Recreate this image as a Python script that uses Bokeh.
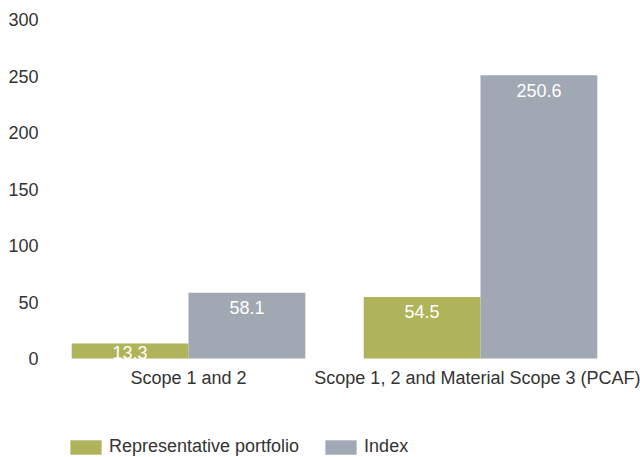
from bokeh.plotting import figure
from bokeh.models import ColumnDataSource, Range1d, Legend, LegendItem, FixedTicker
from bokeh.core.properties import value
from bokeh.embed import file_html
from bokeh.resources import INLINE

categories = ["Scope 1 and 2", "Scope 1, 2 and Material Scope 3 (PCAF)"]
portfolio = [13.3, 54.5]
index_vals = [58.1, 250.6]
series_names = ["Representative portfolio", "Index"]
y_ticks = [0, 50, 100, 150, 200, 250, 300]

GREEN = "#afb45b"
GRAY = "#9fa8b3"
FONT = "Liberation Sans"
TEXT = "#333333"

PLOT_H = 339          # pixels from 0 to 300
BELOW_H = 99          # pixels below the zero line (axis labels + legend)
Y_MAX = 300
px_per_unit = PLOT_H / Y_MAX
CAT_PX = 292          # pixels per category slot
FRAME_W = 598
BAR_W = 0.4

def lbl_offset(v):
    return min(15.0, v * px_per_unit - 6)

centers = [i + 0.5 for i in range(len(categories))]

src = ColumnDataSource(dict(
    xp=[c - BAR_W / 2 for c in centers],
    xi=[c + BAR_W / 2 for c in centers],
    port=portfolio,
    idx=index_vals,
    port_lbl=[f"{v:.1f}" for v in portfolio],
    idx_lbl=[f"{v:.1f}" for v in index_vals],
    port_off=[lbl_offset(v) for v in portfolio],
    idx_off=[lbl_offset(v) for v in index_vals],
))

p = figure(x_range=Range1d(0, FRAME_W / CAT_PX),
           y_range=Range1d(-BELOW_H / px_per_unit, Y_MAX),
           frame_width=FRAME_W, frame_height=PLOT_H + BELOW_H,
           min_border_left=42, min_border_right=0,
           min_border_top=19, min_border_bottom=0,
           output_backend="svg", toolbar_location=None)

r1 = p.vbar(x="xp", top="port", width=BAR_W, source=src,
            fill_color=GREEN, line_color=None)
r2 = p.vbar(x="xi", top="idx", width=BAR_W, source=src,
            fill_color=GRAY, line_color=None)

common = dict(text_align="center", text_baseline="middle", text_color="white",
              text_font=value(FONT), text_font_size="18px", source=src)
p.text(x="xp", y="port", text="port_lbl", y_offset="port_off", **common)
p.text(x="xi", y="idx", text="idx_lbl", y_offset="idx_off", **common)

p.xgrid.visible = False
p.ygrid.visible = False
p.outline_line_color = None
p.background_fill_color = "white"
p.border_fill_color = "white"

p.yaxis.ticker = FixedTicker(ticks=y_ticks)
p.xaxis.ticker = FixedTicker(ticks=centers)
p.xaxis.major_label_overrides = {c: lab for c, lab in zip(centers, categories)}
p.xaxis.fixed_location = 0
for ax in (p.xaxis[0], p.yaxis[0]):
    ax.axis_line_color = None
    ax.major_tick_line_color = None
    ax.minor_tick_line_color = None
    ax.major_tick_out = 0
    ax.major_tick_in = 0
    ax.minor_tick_out = 0
    ax.minor_tick_in = 0
    ax.major_label_text_font = FONT
    ax.major_label_text_font_size = "18px"
    ax.major_label_text_color = TEXT
p.yaxis.major_label_standoff = 4
p.xaxis.major_label_standoff = 9

legend = Legend(items=[LegendItem(label=series_names[0], renderers=[r1]),
                       LegendItem(label=series_names[1], renderers=[r2])],
                location=(24, 0), orientation="horizontal",
                glyph_width=39, glyph_height=18, label_height=18,
                label_standoff=4, spacing=22, padding=0, margin=0,
                border_line_color=None, background_fill_alpha=0,
                label_text_font=FONT, label_text_font_size="18px",
                label_text_color=TEXT)
p.add_layout(legend)

open("out.html", "w").write(file_html(p, INLINE))
